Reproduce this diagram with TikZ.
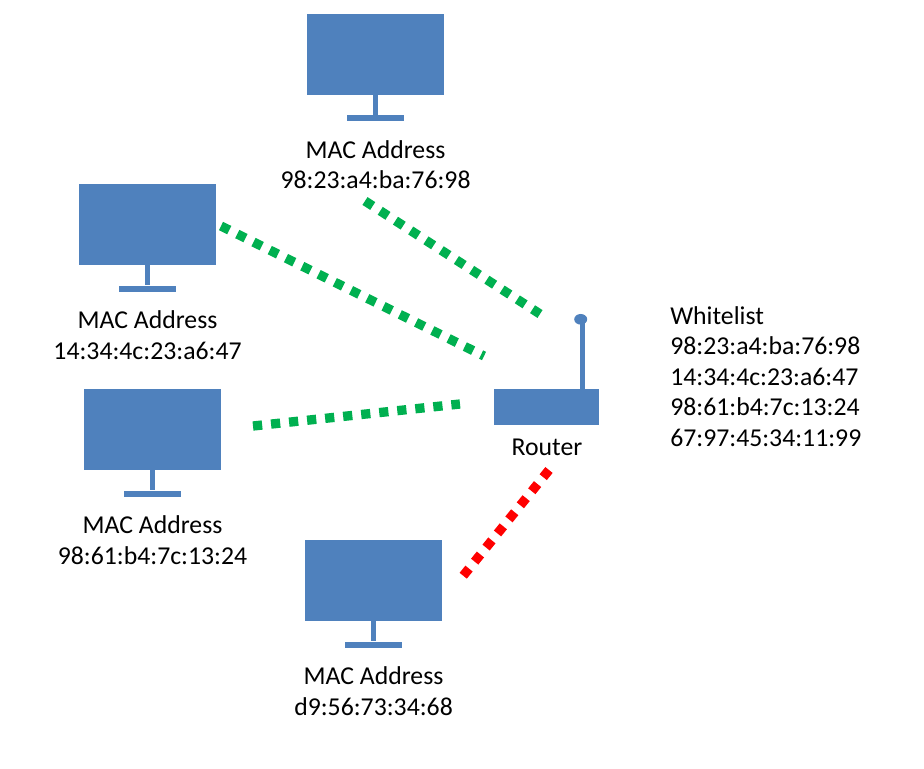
\documentclass[tikz,border=0pt]{standalone}
\usepackage{fontspec}
\usetikzlibrary{shapes.geometric}
\setmainfont{Carlito}
\definecolor{pcblue}{HTML}{4F81BD}
\definecolor{okgreen}{HTML}{00B050}
\definecolor{badred}{HTML}{FF0000}
\tikzset{
  screen/.style={fill=pcblue,minimum width=102.75pt,minimum height=60.75pt,inner sep=0pt},
  foot/.style={fill=pcblue,minimum width=42.75pt,minimum height=4.5pt,inner sep=0pt},
  maclabel/.style={align=center,inner sep=0pt,font=\fontsize{19.3}{22.9}\selectfont},
  link/.style={line width=7pt,dash pattern=on 6.9pt off 6.7pt},
  oklink/.style={link,okgreen},
  badlink/.style={link,badred}
}
\begin{document}
\begin{tikzpicture}[x=0.75pt,y=-0.75pt]
  \useasboundingbox (0,0) rectangle (924,768);
  % computers
  \foreach \pc/\x/\y/\mac in {pcTop/375.5/54/98:23:a4:ba:76:98,
                              pcUpper/147.5/224.5/14:34:4c:23:a6:47,
                              pcLower/152.5/429.5/98:61:b4:7c:13:24,
                              pcBottom/373.5/580.5/d9:56:73:34:68}{
    \node[screen] (\pc) at (\x,\y) {};
    \node[foot] (\pc foot) at (\x,\y+64) {};
    \draw[pcblue,line width=4.2pt] (\pc.south) -- (\pc foot.north);
    \node[maclabel] (\pc label) at (\x,\y+110.5) {MAC Address\\\mac};
  }
  % router
  \node[fill=pcblue,minimum width=78.75pt,minimum height=27pt,inner sep=0pt] (router) at (546.5,407) {};
  \node[fill=pcblue,ellipse,minimum width=9.75pt,minimum height=8pt,inner sep=0pt] (aerial) at (580.7,319.3) {};
  \draw[pcblue,line width=3.75pt] ([xshift=1.4pt]aerial.center) -- ([xshift=1.4pt]aerial.center |- router.north);
  \node[maclabel] (routerlabel) at (547,447) {Router};
  \node[maclabel,align=left,anchor=north west] (whitelist) at (670,306) {Whitelist\\98:23:a4:ba:76:98\\14:34:4c:23:a6:47\\98:61:b4:7c:13:24\\67:97:45:34:11:99};
  % link ends
  \coordinate (topA) at (365,201);
  \coordinate (topB) at (540,314);
  \coordinate (upperA) at (221,226);
  \coordinate (upperB) at (484,356);
  \coordinate (lowerA) at (253,426);
  \coordinate (lowerB) at (460,404);
  \coordinate (badA) at (549,470);
  \coordinate (badB) at (463,576);
  \draw[oklink] (topA) -- (topB);
  \draw[oklink] (upperA) -- (upperB);
  \draw[oklink] (lowerA) -- (lowerB);
  \draw[badlink] (badA) -- (badB);
\end{tikzpicture}
\end{document}
